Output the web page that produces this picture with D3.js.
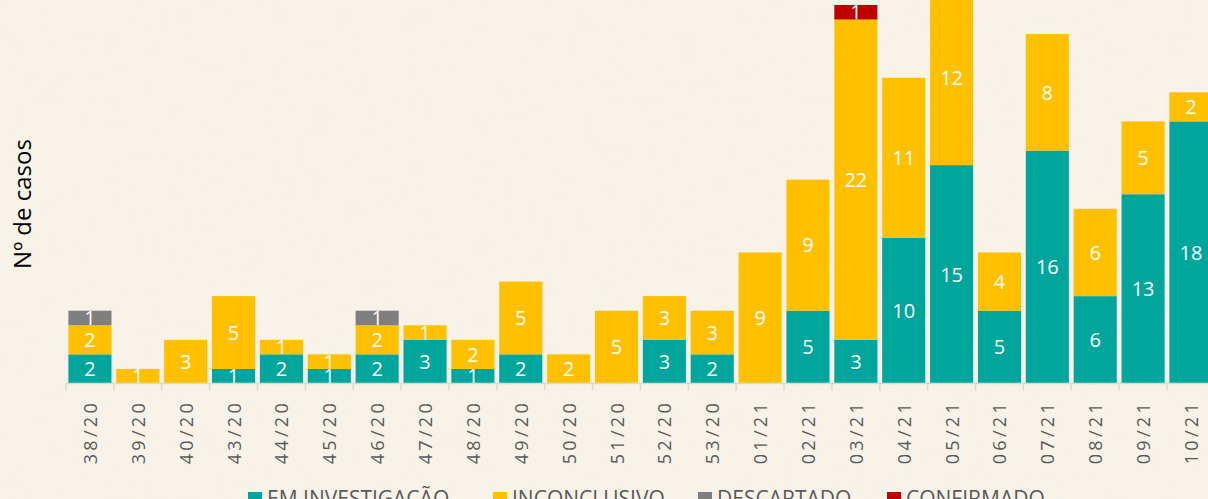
<!DOCTYPE html>
<html>
<head>
<meta charset="utf-8">
<script src="https://cdn.jsdelivr.net/npm/d3@7"></script>
<style>
html,body{margin:0;padding:0;background:#F9F4EA;overflow:hidden;}
svg{display:block;}
</style>
</head>
<body>
<svg id="chart" width="1208" height="499"></svg>
<script>
const categories = ["38/20","39/20","40/20","43/20","44/20","45/20","46/20","47/20","48/20","49/20","50/20","51/20","52/20","53/20","01/21","02/21","03/21","04/21","05/21","06/21","07/21","08/21","09/21","10/21"];
const emInvestigacao = [2,0,0,1,2,1,2,3,1,2,0,0,3,2,0,5,3,10,15,5,16,6,13,18];
const inconclusivo   = [2,1,3,5,1,1,2,1,2,5,2,5,3,3,9,9,22,11,12,4,8,6,5,2];
const descartado     = [1,0,0,0,0,0,1,0,0,0,0,0,0,0,0,0,0,0,0,0,0,0,0,0];
const confirmado     = [0,0,0,0,0,0,0,0,0,0,0,0,0,0,0,0,1,0,0,0,0,0,0,0];
const seriesNames = ["EM INVESTIGAÇÃO","INCONCLUSIVO","DESCARTADO","CONFIRMADO"];
const seriesColors = ["#00A69B","#FFC000","#7F7F7F","#C00000"];
const yTitle = "Nº de casos";

const svg = d3.select("#chart");
const W = 1208, H = 499;

// paper texture background
const defs = svg.append("defs");
const f = defs.append("filter").attr("id","paper").attr("x",0).attr("y",0).attr("width","100%").attr("height","100%");
f.append("feTurbulence").attr("type","fractalNoise").attr("baseFrequency","0.03 0.4").attr("numOctaves",2).attr("seed",3).attr("result","n1");
f.append("feColorMatrix").attr("in","n1").attr("type","matrix").attr("values","0 0 0 0 0.6  0 0 0 0 0.5  0 0 0 0 0.35  0 0 0 0.035 0").attr("result","a");
f.append("feTurbulence").attr("type","fractalNoise").attr("baseFrequency","0.4 0.03").attr("numOctaves",2).attr("seed",7).attr("result","n2");
f.append("feColorMatrix").attr("in","n2").attr("type","matrix").attr("values","0 0 0 0 0.6  0 0 0 0 0.5  0 0 0 0 0.35  0 0 0 0.03 0").attr("result","b");
const fm = f.append("feMerge"); fm.append("feMergeNode").attr("in","a"); fm.append("feMergeNode").attr("in","b");
svg.append("rect").attr("width",W).attr("height",H).attr("fill","#F9F4EA");
svg.append("rect").attr("width",W).attr("height",H).attr("filter","url(#paper)");

const x = d3.scaleBand().domain(categories).range([66, 66 + 24*47.87]).paddingInner(0.1).paddingOuter(0.05);
const y = d3.scaleLinear().domain([0, 30]).range([383.5, 383.5 - 30*14.56]);

const data = categories.map((c,i)=>({cat:c, s0:emInvestigacao[i], s1:inconclusivo[i], s2:descartado[i], s3:confirmado[i]}));
const keys = ["s0","s1","s2","s3"];
const stacked = d3.stack().keys(keys)(data);

const g = svg.append("g");
stacked.forEach((layer, li) => {
  const lg = g.append("g").attr("fill", seriesColors[li]);
  lg.selectAll("rect").data(layer.filter(d=>d[1]-d[0]>0)).join("rect")
    .attr("x", d=>x(d.data.cat))
    .attr("width", x.bandwidth())
    .attr("y", d=>y(d[1]))
    .attr("height", d=>y(d[0])-y(d[1]));
});
stacked.forEach((layer, li) => {
  g.append("g").selectAll("text").data(layer.filter(d=>d[1]-d[0]>0)).join("text")
    .attr("x", d=>x(d.data.cat)+x.bandwidth()/2)
    .attr("y", d=>(y(d[0])+y(d[1]))/2)
    .attr("dy","0.36em")
    .attr("text-anchor","middle")
    .attr("fill","#fff")
    .attr("font-family","'Open Sans', sans-serif")
    .attr("font-size",20)
    .text(d=>d[1]-d[0]);
});

// axis line and ticks at band boundaries
const ax = svg.append("g").attr("stroke","#D9D9D9").attr("stroke-width",1.5);
ax.append("line").attr("x1",66).attr("x2",1218).attr("y1",383.5).attr("y2",383.5);
const step = x.step();
d3.range(categories.length+1).forEach(i=>{
  const xx = 66 + i*step;
  ax.append("line").attr("x1",xx).attr("x2",xx).attr("y1",383.5).attr("y2",390.5);
});

svg.append("g").selectAll("text").data(categories).join("text")
  .attr("transform", d=>`translate(${x(d)+x.bandwidth()/2+7},400) rotate(-90)`)
  .attr("text-anchor","end")
  .attr("fill","#595959")
  .attr("font-family","'Open Sans', sans-serif")
  .attr("font-size",18)
  .attr("letter-spacing","3.3px")
  .text(d=>d);

svg.append("text")
  .attr("transform","translate(31,204) rotate(-90)")
  .attr("text-anchor","middle")
  .attr("fill","#000")
  .attr("font-family","'Open Sans', sans-serif")
  .attr("font-size",24)
  .text(yTitle);

// legend
const legX = [248, 493, 698, 887];
const lgd = svg.append("g");
seriesNames.forEach((n,i)=>{
  lgd.append("rect").attr("x",legX[i]).attr("y",492).attr("width",14).attr("height",14).attr("fill",seriesColors[i]);
  lgd.append("text").attr("x",legX[i]+19).attr("y",505.5).attr("fill","#595959")
    .attr("font-family","'Open Sans', sans-serif").attr("font-size",21).text(n);
});
</script>
</body>
</html>
